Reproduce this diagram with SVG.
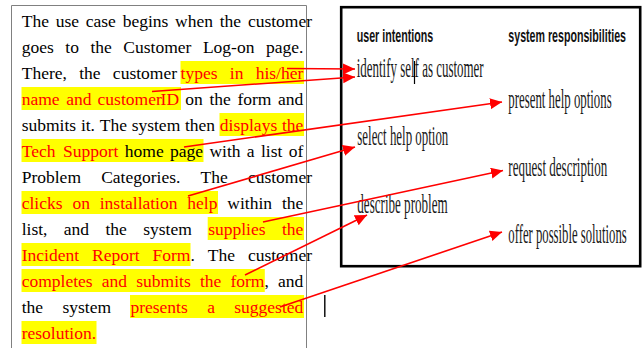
<svg xmlns="http://www.w3.org/2000/svg" width="644" height="348" viewBox="0 0 644 348">
<defs>
<style>
.t{font-family:"Liberation Serif","Times New Roman",serif;font-size:17.5px;fill:#000}
.r{fill:#ff0000}
.k{fill:#000}
.hl{fill:#ffff00}
.hd{font-family:"Liberation Sans",Arial,sans-serif;font-weight:bold;font-size:17.5px;fill:#111}
.it{font-family:"Liberation Serif","Times New Roman",serif;font-size:27px;fill:#1a1a1a}
.cn{stroke:#ff0000;stroke-width:1.6;fill:none}
</style>
<marker id="ah" markerUnits="userSpaceOnUse" markerWidth="14" markerHeight="12" refX="12" refY="5.5" orient="auto">
<path d="M0,0 L12,5.5 L0,11 z" fill="#ff0000"/>
</marker>
</defs>
<rect width="644" height="348" fill="#fff"/>

<g id="use-case-text">
<path d="M11.5,348 V5.5 H306.5 V348" fill="none" stroke="#808080" stroke-width="1"/>
<g id="highlights">
<rect class="hl" x="180.5" y="61" width="123.5" height="23"/>
<rect class="hl" x="21.5" y="87" width="159.5" height="23"/>
<rect class="hl" x="219.5" y="113" width="84.5" height="23"/>
<rect class="hl" x="21.5" y="139" width="182" height="23"/>
<rect class="hl" x="21.5" y="191" width="196.5" height="23"/>
<rect class="hl" x="207.7" y="217" width="96.3" height="23"/>
<rect class="hl" x="21.5" y="243" width="169" height="23"/>
<rect class="hl" x="21.5" y="269" width="243.3" height="23"/>
<rect class="hl" x="130" y="295" width="174" height="23"/>
<rect class="hl" x="21.5" y="321" width="75" height="23"/>
</g>
<text class="t" y="27"><tspan x="21.7">The</tspan><tspan x="55.67">use</tspan><tspan x="85.76">case</tspan><tspan x="122.64">begins</tspan><tspan x="175.09">when</tspan><tspan x="219.76">the</tspan><tspan x="247.91">customer</tspan></text>
<text class="t" y="53"><tspan x="21.7">goes</tspan><tspan x="65.29">to</tspan><tspan x="90.42">the</tspan><tspan x="123.32">Customer</tspan><tspan x="202.89">Log-on</tspan><tspan x="265.92">page.</tspan></text>
<text class="t" y="79"><tspan x="21.7">There,</tspan><tspan x="79.18">the</tspan><tspan x="112.86">customer</tspan><tspan class="r" x="180.56">types</tspan><tspan class="r" x="229.79">in</tspan><tspan class="r" x="255.7">his/her</tspan></text>
<text class="t" y="105"><tspan class="r" x="21.7">name</tspan><tspan class="r" x="66.24">and</tspan><tspan class="r" x="97.6">customer</tspan><tspan class="r" x="160.6">ID</tspan><tspan x="185.27">on</tspan><tspan x="209.4">the</tspan><tspan x="237.42">form</tspan><tspan x="278.07">and</tspan></text>
<text class="t" y="131"><tspan x="21.7">submits</tspan><tspan x="80.88">it.</tspan><tspan x="99.71">The</tspan><tspan x="131.64">system</tspan><tspan x="184.98">then</tspan><tspan class="r" x="219.84">displays</tspan><tspan class="r" x="281.93">the</tspan></text>
<text class="t" y="157"><tspan class="r" x="21.7">Tech</tspan><tspan class="r" x="63.02">Support</tspan><tspan x="124.78">home</tspan><tspan x="170.01">page</tspan><tspan x="209.39">with</tspan><tspan x="246.85">a</tspan><tspan x="260.96">list</tspan><tspan x="288.7">of</tspan></text>
<text class="t" y="183"><tspan x="21.7">Problem</tspan><tspan x="101.16">Categories.</tspan><tspan x="200.53">The</tspan><tspan x="247.89">customer</tspan></text>
<text class="t" y="209"><tspan class="r" x="21.7">clicks</tspan><tspan class="r" x="72.38">on</tspan><tspan class="r" x="99.73">installation</tspan><tspan class="r" x="187.33">help</tspan><tspan x="227.32">within</tspan><tspan x="281.9">the</tspan></text>
<text class="t" y="235"><tspan x="21.7">list,</tspan><tspan x="63.84">and</tspan><tspan x="105.47">the</tspan><tspan x="143.22">system</tspan><tspan class="r" x="208.2">supplies</tspan><tspan class="r" x="281.93">the</tspan></text>
<text class="t" y="261"><tspan class="r" x="21.7">Incident</tspan><tspan class="r" x="91.98">Report</tspan><tspan class="r" x="152.55">Form</tspan><tspan class="k">.</tspan><tspan x="207.78">The</tspan><tspan x="247.92">customer</tspan></text>
<text class="t" y="287"><tspan class="r" x="21.7">completes</tspan><tspan class="r" x="101.83">and</tspan><tspan class="r" x="136.27">submits</tspan><tspan class="r" x="199.9">the</tspan><tspan class="r" x="230.46">form</tspan><tspan class="k">,</tspan><tspan x="278.03">and</tspan></text>
<text class="t" y="313"><tspan x="21.7">the</tspan><tspan x="62.46">system</tspan><tspan class="r" x="130.45">presents</tspan><tspan class="r" x="207.17">a</tspan><tspan class="r" x="234.31">suggested</tspan></text>
<text class="t" y="339"><tspan class="r" x="21.7">resolution.</tspan></text>
</g>

<line x1="324.8" y1="295" x2="324.8" y2="317" stroke="#000" stroke-width="1.4"/>

<g id="responsibility-box">
<rect x="341.2" y="7.2" width="299" height="259" fill="none" stroke="#000" stroke-width="2.6"/>
<g id="header-user"><text class="hd" x="356.7" y="42.3" textLength="76.6" lengthAdjust="spacingAndGlyphs">user intentions</text></g>
<g id="header-system"><text class="hd" x="508.3" y="42.3" textLength="117.7" lengthAdjust="spacingAndGlyphs">system responsibilities</text></g>
<g id="identify"><text class="it" x="356.7" y="76.5" textLength="127" lengthAdjust="spacingAndGlyphs">identify self as customer</text>
<line x1="414.5" y1="61" x2="414.5" y2="84" stroke="#000" stroke-width="1.2"/></g>
<g id="present"><text class="it" x="508.3" y="107.5" textLength="103.4" lengthAdjust="spacingAndGlyphs">present help options</text></g>
<g id="select"><text class="it" x="357.3" y="145" textLength="91" lengthAdjust="spacingAndGlyphs">select help option</text></g>
<g id="request"><text class="it" x="508.3" y="175.5" textLength="99" lengthAdjust="spacingAndGlyphs">request description</text></g>
<g id="describe"><text class="it" x="357.3" y="213" textLength="90.4" lengthAdjust="spacingAndGlyphs">describe problem</text></g>
<g id="offer"><text class="it" x="508.3" y="243" textLength="118.4" lengthAdjust="spacingAndGlyphs">offer possible solutions</text></g>
</g>

<g id="connectors">
<line class="cn" x1="287" y1="68.5" x2="355" y2="69" marker-end="url(#ah)"/>
<line class="cn" x1="152" y1="91.5" x2="355" y2="77" marker-end="url(#ah)"/>
<line class="cn" x1="184" y1="147" x2="502" y2="102" marker-end="url(#ah)"/>
<line class="cn" x1="188" y1="196" x2="355" y2="147" marker-end="url(#ah)"/>
<line class="cn" x1="263" y1="222" x2="503" y2="170.5" marker-end="url(#ah)"/>
<line class="cn" x1="245" y1="275" x2="367" y2="215" marker-end="url(#ah)"/>
<line class="cn" x1="280" y1="307" x2="502" y2="232" marker-end="url(#ah)"/>
</g>
</svg>
